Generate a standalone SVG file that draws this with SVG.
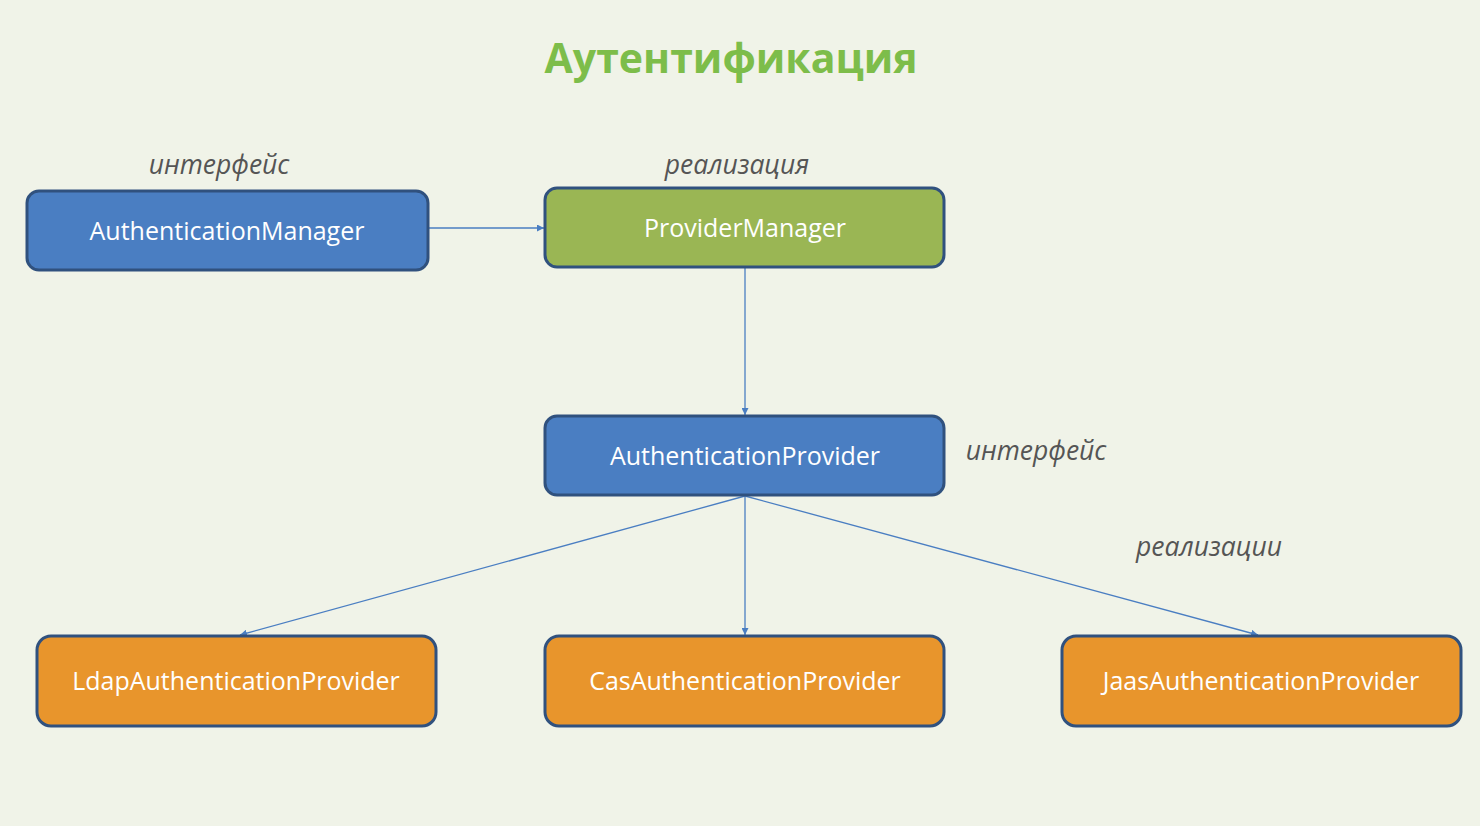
<svg xmlns="http://www.w3.org/2000/svg" width="1480" height="826" viewBox="0 0 1480 826">
<defs>
<marker id="arr" viewBox="0 0 10 10" refX="10" refY="5" markerWidth="7" markerHeight="7" orient="auto" markerUnits="userSpaceOnUse">
<path d="M0,0 L10,5 L0,10 z" fill="#4A7EC2"/>
</marker>
<style>
.box{stroke:#30517E;stroke-width:3}
.blue{fill:#4A7EC2}
.green{fill:#9AB654}
.orange{fill:#E8952C}
.nt{font-family:"Open Sans","Noto Sans",sans-serif;font-size:25px;fill:#FFFFFF;text-anchor:middle}
.lbl{font-family:"Open Sans","Noto Sans",sans-serif;font-size:26.5px;font-style:italic;fill:#555555;text-anchor:middle}
.con{stroke:#4A7EC2;stroke-width:1.3;fill:none;marker-end:url(#arr)}
</style>
</defs>
<rect width="1480" height="826" fill="#F0F3E8"/>
<text x="731" y="73" font-family="Open Sans,Noto Sans,sans-serif" font-size="41" font-weight="bold" fill="#7DBD4A" text-anchor="middle">Аутентификация</text>
<text class="lbl" x="219" y="174">интерфейс</text>
<text class="lbl" x="737" y="174">реализация</text>
<text class="lbl" x="1036" y="460">интерфейс</text>
<text class="lbl" x="1209" y="556">реализации</text>
<g id="connectors">
<line class="con" x1="429" y1="228" x2="544" y2="228"/>
<line class="con" x1="745" y1="268" x2="745" y2="415"/>
<line class="con" x1="745" y1="496" x2="240" y2="635"/>
<line class="con" x1="745" y1="496" x2="745" y2="635"/>
<line class="con" x1="745" y1="496" x2="1258" y2="635"/>
</g>
<g id="authManager"><rect class="box blue" x="27" y="191" width="401" height="79" rx="12"/><text class="nt" x="227" y="240">AuthenticationManager</text></g>
<g id="providerManager"><rect class="box green" x="545" y="188" width="399" height="79" rx="12"/><text class="nt" x="745" y="237">ProviderManager</text></g>
<g id="authProvider"><rect class="box blue" x="545" y="416" width="399" height="79" rx="12"/><text class="nt" x="745" y="465">AuthenticationProvider</text></g>
<g id="ldap"><rect class="box orange" x="37" y="636" width="399" height="90" rx="14"/><text class="nt" x="236" y="690">LdapAuthenticationProvider</text></g>
<g id="cas"><rect class="box orange" x="545" y="636" width="399" height="90" rx="14"/><text class="nt" x="745" y="690">CasAuthenticationProvider</text></g>
<g id="jaas"><rect class="box orange" x="1062" y="636" width="399" height="90" rx="14"/><text class="nt" x="1261" y="690">JaasAuthenticationProvider</text></g>
</svg>
